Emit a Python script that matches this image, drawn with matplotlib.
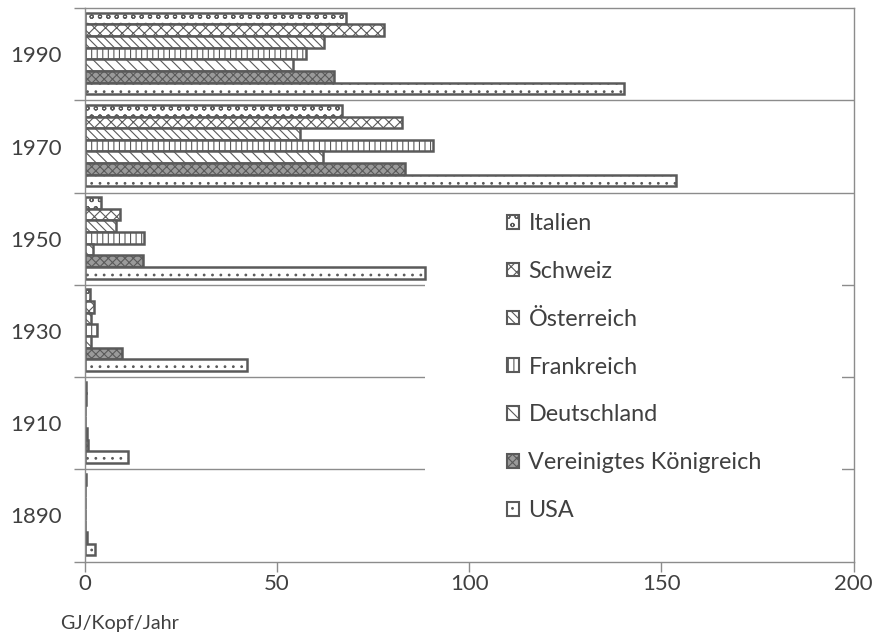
import matplotlib
matplotlib.use("Agg")
import matplotlib.pyplot as plt
import numpy as np
from matplotlib.patches import Patch, Rectangle

plt.rcParams['font.family'] = ['Lato', 'DejaVu Sans']
plt.rcParams['hatch.linewidth'] = 0.8

years = ['1890', '1910', '1930', '1950', '1970', '1990']
series = ['Italien', 'Schweiz', 'Österreich', 'Frankreich', 'Deutschland',
          'Vereinigtes Königreich', 'USA']

italien = [0.2, 0.3, 1.3, 4.1, 67.0, 68.0]
schweiz = [0.1, 0.3, 2.3, 9.1, 82.4, 77.7]
oesterreich = [0.1, 0.1, 1.6, 8.1, 56.0, 62.3]
frankreich = [0.1, 0.1, 3.2, 15.4, 90.5, 57.6]
deutschland = [0.1, 0.4, 1.6, 2.0, 62.0, 54.2]
uk = [0.5, 0.9, 9.7, 15.2, 83.2, 64.7]
usa = [2.6, 11.3, 42.2, 88.4, 153.8, 140.3]

values = [italien, schweiz, oesterreich, frankreich, deutschland, uk, usa]

styles = [
    dict(facecolor='white', hatch='oo'),
    dict(facecolor='white', hatch='xxx'),
    dict(facecolor='white', hatch='\\\\\\\\'),
    dict(facecolor='white', hatch='|||'),
    dict(facecolor='white', hatch='\\\\\\'),
    dict(facecolor='#9a9a9a', hatch='xxxx'),
    dict(facecolor='white', hatch='..'),
]

edge = '#5a5a5a'
axc = '#8c8c8c'
txt = '#404040'

fig = plt.figure(figsize=(8.74, 6.37), dpi=100)
ax = fig.add_axes([85/874, 1-561.5/637, (853.5-85)/874, (561.5-8.3)/637])

y = np.arange(len(years))
h = 0.126
for k, (vals, st) in enumerate(zip(values, styles)):
    ax.barh(y + (3 - k) * h + 0.01, vals, height=h, edgecolor=edge,
            linewidth=1.8, zorder=2, **st)

ax.set_xlim(0, 200)
ax.set_ylim(-0.5, len(years) - 0.5)

# category boundaries
bounds = np.arange(-0.5, len(years), 1.0)
for b in bounds[1:-1]:
    ax.axhline(b, color=axc, linewidth=1.0, zorder=0.5)
ax.set_yticks(bounds)
ax.set_yticklabels([])
ax.set_yticks(y, minor=True)
ax.set_yticklabels(years, minor=True)
ax.tick_params(axis='y', which='major', length=8, color=axc, width=1)
ax.tick_params(axis='y', which='minor', length=0, labelsize=16, pad=16.5,
               labelcolor=txt)

ax.set_xticks([0, 50, 100, 150, 200])
ax.tick_params(axis='x', length=7, color=axc, width=1, labelsize=16, pad=2,
               labelcolor=txt)
for s in ax.spines.values():
    s.set_color(axc)
    s.set_linewidth(1.0)

fig.text(60/874, 1-623/637, 'GJ/Kopf/Jahr', fontsize=14.2, color=txt,
         va='center', ha='left')

# white legend area covering the boundary lines
bg = Rectangle((425/874, 1-540/637), (842-425)/874, (540-198)/637,
               transform=fig.transFigure, facecolor='white', edgecolor='none',
               zorder=1)
ax.add_artist(bg)

handles = [Patch(edgecolor=edge, linewidth=1.5, label=s, **st)
           for s, st in zip(series, styles)]
leg = fig.legend(handles=handles, loc='upper left',
                 bbox_to_anchor=(507/874, 1-213/637),
                 frameon=False, fontsize=16.8, handlelength=0.52,
                 handleheight=0.52, handletextpad=0.4, labelspacing=1.15,
                 borderpad=0, borderaxespad=0)
for t in leg.get_texts():
    t.set_color(txt)

fig.savefig('out.png', dpi=100, facecolor='white')
